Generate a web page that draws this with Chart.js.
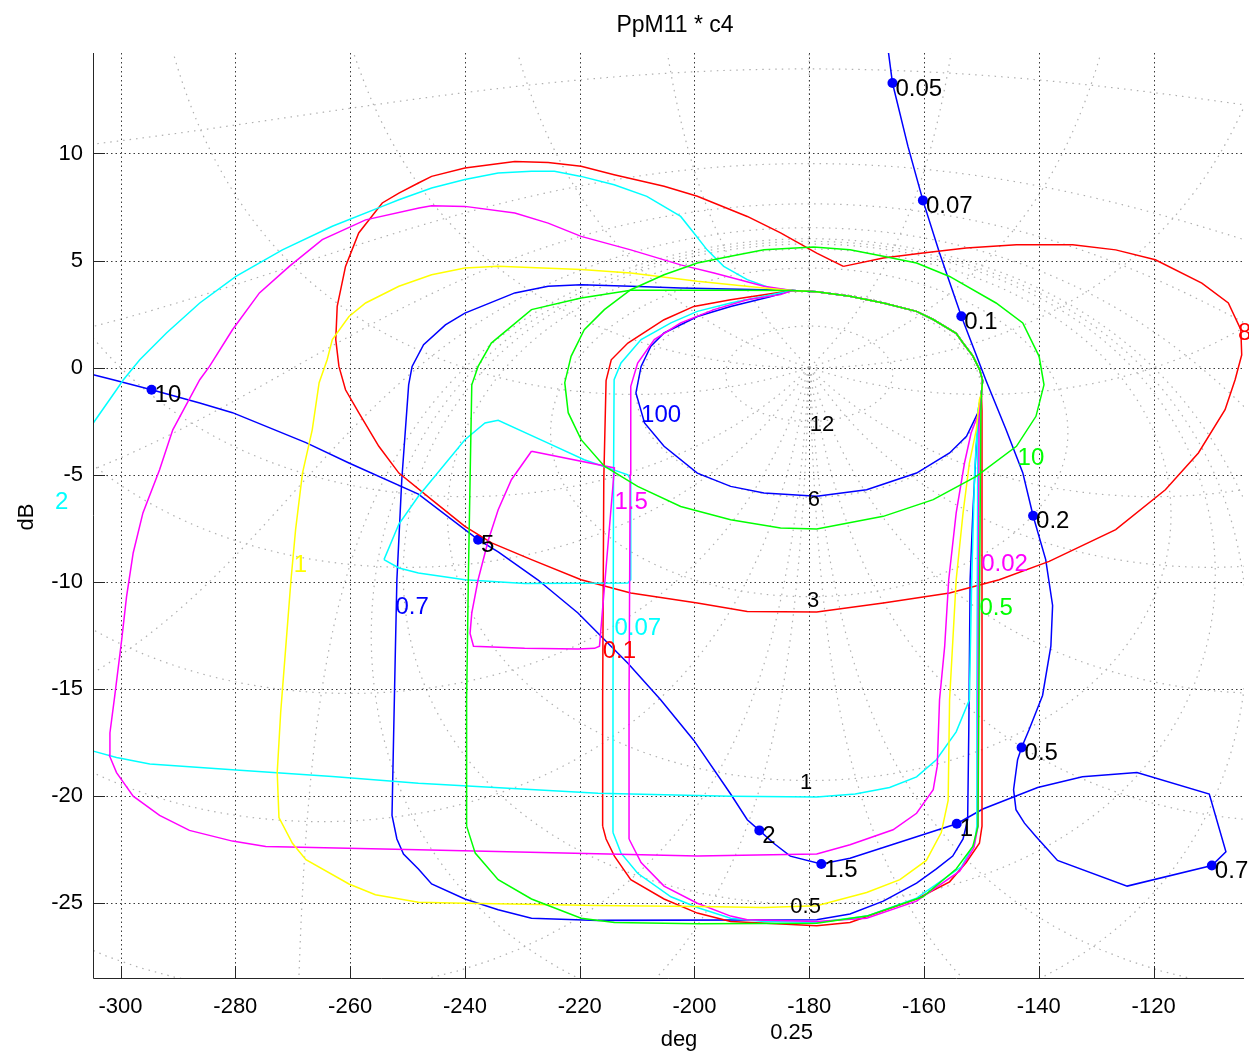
<!DOCTYPE html>
<html><head><meta charset="utf-8">
<script src="https://cdn.jsdelivr.net/npm/chart.js@4/dist/chart.umd.min.js"></script>
<style>html,body{margin:0;padding:0;background:#fff;overflow:hidden}</style>
</head><body>
<canvas id="c" width="1249" height="1052"></canvas>
<script>
// ---------- axes ----------
const xTicks = [-300,-280,-260,-240,-220,-200,-180,-160,-140,-120];
const yTicks = [-25,-20,-15,-10,-5,0,5,10];
const xRange = [-304.8, -104.25];
const yRange = [-28.49, 14.69];
const titleText = 'PpM11 * c4';
const xTitle = 'deg';
const yTitle = 'dB';

// ---------- sensitivity grid (contour values) ----------
const gridMagDb = [12, 6, 3, 1, 0.5, 0.25, 0, -1, -3, -6, -12, -20];
const gridPhaseDeg = [1, 2, 5, 10, 20, 30, 60, 90, 120, 150, 180];
const gridLabelText = ['12','6','3','1','0.5','0.25'];
const gridLabelPhase = [-179.9,-180.25,-180.4,-181.6,-183.3,-186.8];
const gridLabelGain = [-2.66,-6.19,-10.9,-19.39,-25.19,-31.05];

// ---------- shared loop near (-180, 3.5) ----------
const loopArc = [[-183.0,3.6],[-178.7,3.55],[-172.9,3.33],[-167.1,3.02],[-161.3,2.63],[-158.4,2.25],[-154.4,1.6],[-153.2,1.15],[-151.5,0.55],[-150.3,-0.1],[-149.8,-0.6],[-150.0,-1.2]];

// ---------- red ----------
const redOuter = [[-174.05,4.73],[-178.7,5.35],[-185,6.29],[-190.8,7.06],[-199.5,8.0],[-205.3,8.47],[-214,9.01],[-219.75,9.4],[-225.5,9.58],[-231.3,9.63],[-240,9.32],[-245.8,8.93],[-248.1,8.62],[-251.5,8.15],[-254.4,7.69],[-258.5,6.29],[-260.8,4.73],[-262.25,2.86],[-262.5,1.31],[-261.95,0.06],[-260.8,-1.03],[-258.5,-2.1],[-255,-3.67],[-251.5,-4.92],[-245.8,-6.16],[-240,-7.41],[-235.35,-8.18],[-228.4,-8.96],[-219.75,-9.9],[-211.1,-10.52],[-199.5,-10.98],[-190.8,-11.38],[-178.7,-11.4],[-167.1,-10.98],[-155.55,-10.52],[-146.9,-9.9],[-138.2,-9.04],[-126.6,-7.56],[-117.95,-5.7],[-112.2,-3.98],[-107.55,-1.96],[-105.8,-0.56],[-104.65,0.6],[-104.8,1.77],[-106.98,3.02],[-111.6,3.95],[-119.7,5.04],[-126.6,5.5],[-134.1,5.74],[-143.9,5.74],[-152.65,5.59],[-160.2,5.35],[-167.1,5.12],[-174.05,4.73]];
const redInnerLeft = [[-216.0,-21.4],[-216.0,-15.5],[-215.8,-5.2],[-215.4,-0.6],[-214.5,0.37],[-211.6,1.15],[-205.3,2.24],[-200.1,2.86],[-193.7,3.17],[-187.9,3.41]];
const redInnerRight = [[-149.9,-2.0],[-149.9,-15.5],[-149.9,-21.4],[-150.35,-22.2],[-152.65,-23.1],[-155.55,-24.0],[-161.3,-24.8],[-172.9,-25.9],[-178.7,-26.05],[-193.7,-25.85],[-199.5,-25.46],[-205.3,-24.8],[-211.1,-23.9],[-213.95,-22.8],[-215.4,-22.0],[-216.0,-21.4]];

// ---------- cyan ----------
const cyanOuterTop = [[-307.0,-3.4],[-304.75,-2.58],[-300.7,-1.03],[-299.5,-0.56],[-296.65,0.37],[-292.0,1.62],[-286.2,3.02],[-279.9,4.26],[-271.8,5.5],[-263.1,6.6],[-254.4,7.53],[-251.5,7.84],[-245.8,8.39],[-240.0,8.78],[-234.2,9.09],[-228.4,9.17],[-224.4,9.17],[-219.75,8.93],[-214.0,8.54],[-208.3,8.0],[-202.4,7.06],[-200.1,6.29],[-197.8,5.5],[-194.9,4.73],[-190.8,4.11],[-186.8,3.72]];
const cyanOuterRight = [[-150.6,-2.0],[-151.2,-5.0],[-151.7,-10.0],[-152.1,-15.5],[-154.4,-17.0],[-157.85,-18.3],[-161.3,-19.1],[-166.0,-19.6],[-172.0,-19.9],[-178.7,-20.04],[-193.7,-20.0],[-216.8,-19.86],[-248.1,-19.4],[-263.1,-19.08],[-280.5,-18.77],[-294.9,-18.5],[-300.7,-18.2],[-304.75,-17.9],[-307.0,-17.8]];
const cyanInnerLeft = [[-214.2,-21.7],[-214.2,-15.5],[-214.1,-5.0],[-214.0,-0.56],[-212.8,0.22],[-209.3,1.31],[-204.1,2.09],[-199.5,2.63],[-193.7,3.02],[-187.9,3.33]];
const cyanInnerRight = [[-150.6,-2.0],[-150.8,-15.5],[-150.8,-21.4],[-151.2,-22.2],[-153.5,-23.3],[-161.3,-24.76],[-170.0,-25.6],[-178.7,-25.9],[-187.9,-25.85],[-193.7,-25.7],[-199.5,-25.2],[-204.1,-24.7],[-209.9,-23.6],[-212.8,-22.66],[-214.2,-21.7]];
const cyanPent = [[-254.1,-8.96],[-251.5,-7.3],[-248.1,-6.0],[-240,-3.36],[-236.5,-2.58],[-234.2,-2.46],[-225.5,-3.52],[-219.2,-4.3],[-211.6,-5.0],[-211.1,-5.23],[-211.1,-9.9],[-211.6,-10.05],[-229.6,-10.08],[-240,-9.9],[-248.1,-9.58],[-251.5,-9.35],[-254.1,-8.96]];

// ---------- magenta ----------
const magOuterLeft = [[-302.0,-18.07],[-301.85,-17.05],[-301.0,-15.3],[-299.8,-12.7],[-298.96,-10.7],[-297.8,-8.65],[-296.1,-6.78],[-293.2,-4.76],[-290.9,-2.9],[-286.2,-0.56],[-284.5,0.06],[-280.5,1.77],[-275.8,3.49],[-270.6,4.73],[-264.85,5.98],[-257.3,6.9],[-248.0,7.45],[-245.8,7.56],[-240.0,7.53],[-231.3,7.22],[-225.5,6.75],[-219.75,6.13],[-211.1,5.5],[-202.4,4.8],[-196.6,4.42],[-187.9,3.8]];
const magOuterRight = [[-150.05,-1.18],[-150.45,-2.1],[-151.8,-3.05],[-152.95,-4.45],[-154.4,-6.78],[-155.7,-9.9],[-156.4,-13.0],[-157.3,-15.5],[-157.7,-18.6],[-158.4,-19.7],[-161.3,-20.8],[-165.4,-21.57],[-172.9,-22.27],[-178.7,-22.7],[-199.5,-22.8],[-248.1,-22.5],[-274.7,-22.35],[-280.5,-22.1],[-288.0,-21.6],[-293.2,-20.9],[-297.8,-20.0],[-300.7,-18.9],[-302.0,-18.07]];
const magInnerLeft = [[-211.4,-22.0],[-211.4,-15.5],[-211.2,-5.0],[-211.1,-0.87],[-209.9,0.22],[-207.0,1.31],[-202.4,2.09],[-196.6,2.71],[-190.8,3.17],[-185.0,3.41]];
const magInnerRight = [[-150.4,-2.0],[-150.6,-15.5],[-150.6,-21.4],[-151.3,-22.4],[-153.8,-23.5],[-161.3,-24.9],[-170.0,-25.7],[-178.7,-25.85],[-190.8,-25.77],[-193.7,-25.6],[-199.5,-25.0],[-205.3,-24.2],[-209.3,-23.1],[-211.4,-22.0]];
const magQuad = [[-228.4,-3.9],[-213.95,-4.68],[-216.55,-13.0],[-217.4,-13.1],[-220.3,-13.13],[-229.6,-13.1],[-238.5,-13.0],[-239.1,-12.4],[-238.8,-11.45],[-237.7,-9.9],[-235.9,-8.03],[-234.2,-6.63],[-231.9,-5.23],[-228.4,-3.9]];

// ---------- yellow ----------
const yellowLeft = [[-272.7,-18.9],[-272.4,-17.5],[-272.1,-16.1],[-271.2,-13.0],[-270.3,-9.9],[-269.5,-7.56],[-268.3,-4.92],[-266.6,-2.9],[-265.4,-0.7],[-264.0,0.37],[-263.1,1.31],[-260.2,2.39],[-257.3,3.02],[-251.5,3.8],[-245.8,4.34],[-240.0,4.65],[-234.2,4.73],[-219.75,4.58],[-211.1,4.42],[-199.5,4.03],[-187.9,3.72]];
const yellowRight = [[-150.35,-1.49],[-150.9,-2.9],[-152.1,-4.45],[-153.2,-6.78],[-154.4,-9.9],[-155.55,-15.5],[-155.8,-20.2],[-157.0,-21.7],[-159.6,-23.0],[-164.2,-23.9],[-170.0,-24.5],[-178.7,-25.12],[-187.9,-25.2],[-199.5,-25.15],[-216.8,-25.1],[-240.0,-25.0],[-248.1,-24.95],[-255.6,-24.6],[-260.2,-24.1],[-267.7,-22.97],[-270.05,-22.2],[-272.4,-21.0],[-272.7,-18.9]];

// ---------- green ----------
const greenOuter = [[-179.25,5.63],[-187.9,5.5],[-193.7,5.2],[-199.5,4.89],[-205.3,4.34],[-211.1,3.64],[-215.7,2.71],[-219.2,1.77],[-221.5,0.53],[-222.6,-0.7],[-222,-2.1],[-219.75,-3.36],[-215.7,-4.6],[-209.9,-5.54],[-202.4,-6.48],[-193.7,-7.1],[-185,-7.48],[-178.7,-7.53],[-167.1,-6.94],[-158.4,-6.16],[-150.9,-5.07],[-143.9,-3.67],[-140.5,-2.27],[-139.1,-0.8],[-139.95,0.53],[-142.8,2.09],[-147.45,3.02],[-155.55,4.26],[-161.3,4.89],[-167.1,5.2],[-172.9,5.5],[-179.25,5.63]];
const green05Left = [[-239.7,-21.4],[-239.7,-15.5],[-239.4,-9.9],[-239.1,-5.23],[-238.8,-0.8],[-237.7,0.06],[-235.4,1.15],[-228.4,2.71],[-219.75,3.25],[-211.1,3.61],[-193.7,3.61]];
const green05Right = [[-150.1,-2.1],[-150.45,-15.5],[-150.6,-21.4],[-151.5,-22.35],[-154.4,-23.4],[-160.2,-24.7],[-170.0,-25.6],[-178.7,-25.93],[-199.5,-25.96],[-213.95,-25.9],[-219.75,-25.7],[-228.4,-24.8],[-234.2,-23.9],[-238.2,-22.66],[-239.7,-21.4]];

// ---------- blue ----------
const blue07Left = [[-252.7,-20.9],[-252.4,-16.9],[-252.1,-13.0],[-251.85,-9.9],[-251.0,-5.23],[-249.8,-0.8],[-249.2,0.06],[-247.2,1.07],[-243.4,2.0],[-240.0,2.55],[-231.3,3.49],[-225.5,3.8],[-219.75,3.87],[-211.1,3.8],[-202.4,3.72],[-187.9,3.64]];
const blue07Right = [[-150.35,-2.1],[-150.9,-3.67],[-151.5,-6.78],[-151.97,-9.9],[-152.2,-16.9],[-152.4,-21.1],[-153.2,-22.0],[-155.0,-22.8],[-157.85,-23.4],[-161.3,-24.06],[-167.1,-24.9],[-172.9,-25.5],[-178.7,-25.77],[-216.8,-25.8],[-228.4,-25.7],[-234.2,-25.3],[-240.0,-24.8],[-245.8,-24.1],[-248.1,-23.4],[-250.7,-22.7],[-251.85,-22.0],[-252.7,-20.9]];
const blue100Lower = [[-150.0,-1.2],[-150.6,-2.1],[-152.6,-3.2],[-155.55,-3.98],[-161.3,-4.92],[-170.0,-5.7],[-178.7,-6.0],[-187.9,-5.85],[-193.7,-5.54],[-199.5,-4.92],[-205.3,-3.67],[-208.7,-2.58],[-210.2,-1.18],[-209.3,0.06],[-207.6,1.0],[-205.3,1.62],[-199.5,2.39],[-193.7,2.86],[-187.0,3.3]];

// ---------- main open-loop curve (blue with frequency points) ----------
const mainPath = [[-166.5,15.5],[-166.2,14.72],[-165.5,13.29],[-162.8,10.33],[-160.2,7.81],[-157.3,5.35],[-153.5,2.4],[-149.2,-0.6],[-145.7,-2.9],[-142.8,-4.9],[-141.0,-6.91],[-138.8,-8.96],[-137.6,-11.1],[-137.9,-13.0],[-139.35,-15.3],[-141.7,-16.9],[-143.0,-17.73],[-143.7,-18.3],[-144.4,-19.7],[-143.98,-20.63],[-142.5,-21.26],[-140.5,-21.88],[-136.75,-23.0],[-124.6,-24.2],[-109.85,-23.24],[-107.4,-22.6],[-110.3,-19.9],[-122.9,-18.9],[-132.4,-19.1],[-140.2,-19.6],[-149.75,-20.6],[-154.3,-21.29],[-161.3,-21.9],[-167.1,-22.4],[-172.9,-22.9],[-177.9,-23.17],[-183.3,-22.8],[-186.2,-22.2],[-188.7,-21.6],[-190.8,-21.1],[-193.7,-19.9],[-200.1,-17.4],[-205.9,-15.5],[-211.6,-13.8],[-220.3,-11.45],[-227.3,-9.9],[-234.2,-8.6],[-237.7,-8.03],[-248.1,-5.9],[-260.2,-4.45],[-267.7,-3.5],[-280.5,-2.1],[-286.2,-1.65],[-294.6,-1.03],[-301.3,-0.56],[-304.75,-0.33],[-308.0,-0.1]];
const freqLabels = ['0.05','0.07','0.1','0.2','0.5','0.7','1','1.5','2','5','10'];
const freqPhase = [-165.5,-160.2,-153.5,-141.0,-143.0,-109.85,-154.3,-177.9,-188.7,-237.7,-294.6];
const freqGain = [13.29,7.81,2.4,-6.91,-17.73,-23.24,-21.29,-23.17,-21.6,-8.03,-1.03];

// ---------- curve labels ----------
const curveLabelText = ['8','2','1','0.7','100','1.5','0.07','0.1','10','0.02','0.5'];
const curveLabelPhase = [-105.3,-311.4,-269.8,-252.1,-209.3,-213.95,-213.95,-216.0,-143.7,-150.05,-150.35];
const curveLabelGain = [1.6,-6.28,-9.24,-11.2,-2.24,-6.28,-12.18,-13.24,-4.25,-9.2,-11.22];

// ================= styles & build =================
const RED='#ff0000', CYAN='#00ffff', MAG='#ff00ff', YEL='#ffff00', GRN='#00ff00', BLU='#0000ff';
const curveLabelColor = [RED,CYAN,YEL,BLU,BLU,MAG,CYAN,RED,GRN,MAG,GRN];
const FONT = '"Liberation Sans", Arial, Helvetica, sans-serif';

const toXY = arr => arr.map(p => ({x:p[0], y:p[1]}));
const join = (...parts) => [].concat(...parts);
const line = (pts, color) => ({data: toXY(pts), showLine:true, borderColor:color, backgroundColor:color,
  borderWidth:1.5, pointRadius:0, pointHoverRadius:0, fill:false, tension:0});

const datasets = [
  line(greenOuter, GRN),
  line(join(green05Left, loopArc, green05Right), GRN),
  line(join(yellowLeft, loopArc, yellowRight), YEL),
  line(join(magOuterLeft, loopArc, magOuterRight), MAG),
  line(join(magInnerLeft, loopArc, magInnerRight), MAG),
  line(magQuad, MAG),
  line(join(cyanOuterTop, loopArc, cyanOuterRight), CYAN),
  line(join(cyanInnerLeft, loopArc, cyanInnerRight), CYAN),
  line(cyanPent, CYAN),
  line(redOuter, RED),
  line(join(redInnerLeft, loopArc, redInnerRight), RED),
  line(join(blue07Left, loopArc, blue07Right), BLU),
  line(join(blue100Lower, loopArc), BLU),
  line(mainPath, BLU),
  {data: freqPhase.map((p,i)=>({x:p, y:freqGain[i]})), showLine:false, pointRadius:5, pointHoverRadius:5,
   pointStyle:'circle', backgroundColor:BLU, borderColor:BLU, borderWidth:0}
];

function strokeCurve(ctx, sx, sy, pts) {
  ctx.beginPath();
  let prev = null;
  for (const p of pts) {
    if (!p || !isFinite(p[1]) || Math.abs(p[1]) > 150) { prev = null; continue; }
    const px = sx.getPixelForValue(p[0]), py = sy.getPixelForValue(p[1]);
    if (!prev || Math.abs(p[0]-prev[0]) > 180) ctx.moveTo(px, py); else ctx.lineTo(px, py);
    prev = p;
  }
  ctx.stroke();
}

const nicholsPlugin = {
  id: 'nichols',
  beforeDatasetsDraw(chart) {
    const {ctx, chartArea:a, scales:{x, y}} = chart;
    ctx.save();
    ctx.beginPath(); ctx.rect(a.left, a.top, a.right-a.left, a.bottom-a.top); ctx.clip();
    // sensitivity grid
    ctx.strokeStyle = '#b0b0b0'; ctx.lineWidth = 1.2; ctx.setLineDash([1.5, 5]);
    for (const m of gridMagDb) {
      const s = Math.pow(10, m/20), pts = [];
      for (let k = 0; k <= 2880; k++) {
        const psi = (-180 + k*0.125) * Math.PI/180;
        const re = Math.cos(psi)/s - 1, im = -Math.sin(psi)/s;
        const mag = Math.hypot(re, im);
        if (mag < 1e-7) { pts.push(null); continue; }
        let ph = Math.atan2(im, re)*180/Math.PI; if (ph > 0) ph -= 360;
        pts.push([ph, 20*Math.log10(mag)]);
      }
      strokeCurve(ctx, x, y, pts);
    }
    for (const p of gridPhaseDeg) for (const sg of (p === 180 ? [1] : [1,-1])) {
      const psi = sg*p*Math.PI/180, pts = [];
      for (let k = 0; k <= 3000; k++) {
        const t = Math.pow(10, -3 + k*0.002);
        const re = t*Math.cos(psi) - 1, im = -t*Math.sin(psi);
        const mag = Math.hypot(re, im);
        if (mag < 1e-7) { pts.push(null); continue; }
        let ph = Math.atan2(im, re)*180/Math.PI; if (ph > 0) ph -= 360;
        pts.push([ph, 20*Math.log10(mag)]);
      }
      strokeCurve(ctx, x, y, pts);
    }
    // axis grid
    ctx.strokeStyle = '#3a3a3a'; ctx.lineWidth = 1; ctx.setLineDash([1.5, 3]);
    ctx.beginPath();
    for (const v of xTicks) { const px = Math.round(x.getPixelForValue(v))+0.5; ctx.moveTo(px, a.top); ctx.lineTo(px, a.bottom); }
    for (const v of yTicks) { const py = Math.round(y.getPixelForValue(v))+0.5; ctx.moveTo(a.left, py); ctx.lineTo(a.right, py); }
    ctx.stroke();
    ctx.restore();
  },
  afterDatasetsDraw(chart) {
    const {ctx, chartArea:a, scales:{x, y}} = chart;
    ctx.save();
    ctx.setLineDash([]);
    ctx.strokeStyle = '#262626'; ctx.lineWidth = 1;
    ctx.beginPath();
    ctx.moveTo(a.left+0.5, a.top); ctx.lineTo(a.left+0.5, a.bottom+0.5); ctx.lineTo(a.right, a.bottom+0.5);
    for (const v of xTicks) { const px = Math.round(x.getPixelForValue(v))+0.5; ctx.moveTo(px, a.bottom); ctx.lineTo(px, a.bottom-12); }
    for (const v of yTicks) { const py = Math.round(y.getPixelForValue(v))+0.5; ctx.moveTo(a.left, py); ctx.lineTo(a.left+12, py); }
    ctx.stroke();

    const txt = (s, px, py, font, color, align, base) => {
      ctx.font = font; ctx.fillStyle = color; ctx.textAlign = align || 'left'; ctx.textBaseline = base || 'middle';
      ctx.fillText(s, px, py);
    };
    // grid labels
    gridLabelText.forEach((s,i) => txt(s, x.getPixelForValue(gridLabelPhase[i]), y.getPixelForValue(gridLabelGain[i]), '22px '+FONT, '#000'));
    // curve labels
    curveLabelText.forEach((s,i) => txt(s, x.getPixelForValue(curveLabelPhase[i]), y.getPixelForValue(curveLabelGain[i]), '24px '+FONT, curveLabelColor[i]));
    // frequency labels
    freqLabels.forEach((s,i) => txt(s, x.getPixelForValue(freqPhase[i])+3, y.getPixelForValue(freqGain[i])+6, '24px '+FONT, '#000'));
    // titles
    txt(titleText, 675, 32, '23px '+FONT, '#000', 'center', 'alphabetic');
    txt(xTitle, 679, 1046, '22px '+FONT, '#000', 'center', 'alphabetic');
    ctx.save(); ctx.translate(33, 517); ctx.rotate(-Math.PI/2);
    txt(yTitle, 0, 0, '22px '+FONT, '#000', 'center', 'alphabetic');
    ctx.restore();
    ctx.restore();
  }
};

new Chart(document.getElementById('c'), {
  type: 'scatter',
  data: { datasets },
  options: {
    responsive: false, animation: false, devicePixelRatio: 1, events: [],
    layout: { padding: { top: 53, left: 0, right: 0, bottom: 0 } },
    plugins: { legend: {display:false}, tooltip: {enabled:false}, title: {display:false} },
    scales: {
      x: { type:'linear', min:xRange[0], max:xRange[1],
        afterBuildTicks: s => { s.ticks = xTicks.map(v => ({value:v})); },
        afterFit: s => { s.height = 74; s.paddingLeft = 0; s.paddingRight = 0; },
        ticks: { font:{size:22, family:FONT}, color:'#000', padding:16, maxRotation:0, autoSkip:false, callback: v => String(v) },
        grid: { display:false, drawTicks:false }, border: { display:false } },
      y: { type:'linear', min:yRange[0], max:yRange[1],
        afterBuildTicks: s => { s.ticks = yTicks.map(v => ({value:v})); },
        afterFit: s => { s.width = 93; s.paddingTop = 0; s.paddingBottom = 0; },
        ticks: { font:{size:22, family:FONT}, color:'#000', padding:10, autoSkip:false, callback: v => String(v) },
        grid: { display:false, drawTicks:false }, border: { display:false } }
    }
  },
  plugins: [nicholsPlugin]
});
</script>
</body></html>
